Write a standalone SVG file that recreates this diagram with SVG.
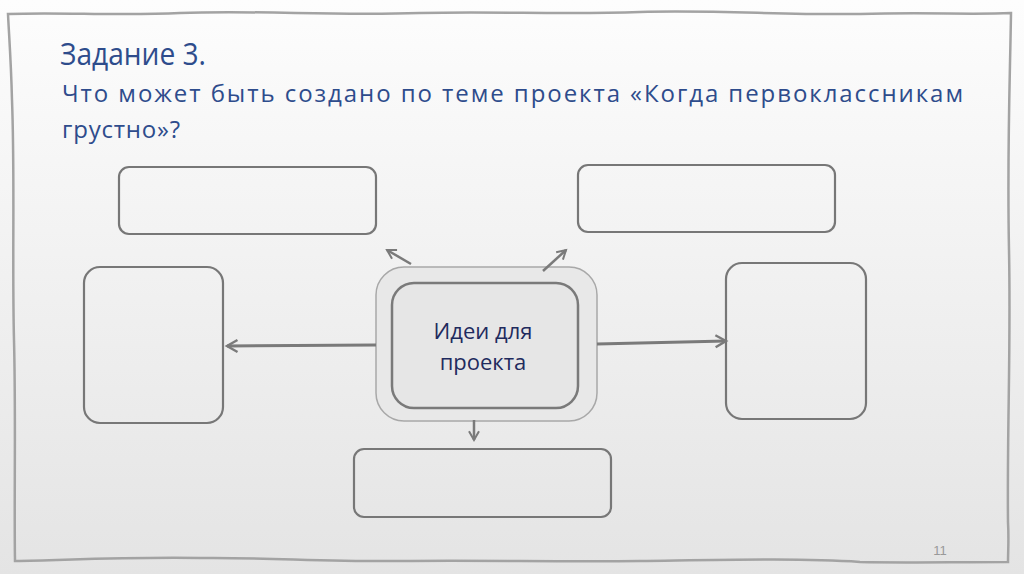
<svg xmlns="http://www.w3.org/2000/svg" width="1024" height="574" viewBox="0 0 1024 574">
<defs>
<linearGradient id="bg" x1="0" y1="0" x2="0" y2="1">
<stop offset="0" stop-color="#fdfdfd"/>
<stop offset="1" stop-color="#e4e4e4"/>
</linearGradient>
<marker id="ah" viewBox="0 0 10 10" refX="8" refY="5" markerWidth="5" markerHeight="5" markerUnits="strokeWidth" orient="auto">
<path d="M1,1 L8,5 L1,9" fill="none" stroke="#7a7a7a" stroke-width="1.6"/>
</marker>
</defs>
<style>
.box{fill:none;stroke:#777;stroke-width:2.2}
.con{stroke:#7a7a7a;fill:none}
.t{font-family:"Open Sans","Noto Sans",sans-serif;fill:#2e4c8c}
.c{font-family:"Open Sans","Noto Sans",sans-serif;font-size:22px;fill:#1f2b5e;text-anchor:middle}
</style>
<rect width="1024" height="574" fill="url(#bg)"/>
<path d="M8,14 C60,12 120,16 180,13 C260,10 330,16 420,13 C500,11 560,15 640,12 C720,10 780,15 860,14 C930,12 970,15 1011,13 C1010,80 1007,150 1009,250 C1011,350 1007,430 1008,522 C1009,540 1008,552 1008,562 C950,562 900,563 860,562 C800,558 720,560 640,561 C560,562 480,560 400,561 C330,562 260,557 200,558 C120,557 70,560 15,561 C14,500 16,420 14,340 C12,260 15,180 12,100 C11,60 9,35 8,14 Z" fill="none" stroke="#a3a3a3" stroke-width="2.5"/>
<text class="t" x="60" y="65" font-size="31" textLength="146" lengthAdjust="spacingAndGlyphs">Задание 3.</text>
<text class="t" x="62" y="102" font-size="24" textLength="901" lengthAdjust="spacing">Что может быть создано по теме проекта «Когда первоклассникам</text>
<text class="t" x="62" y="138" font-size="24" letter-spacing="0.8">грустно»?</text>
<g id="node-top-left"><rect class="box" x="119" y="167" width="257" height="67" rx="10" fill="#f6f6f6"/></g>
<g id="node-top-right"><rect class="box" x="578" y="165" width="257" height="67" rx="10"/></g>
<g id="node-left"><rect class="box" x="84" y="267" width="139" height="156" rx="16"/></g>
<g id="node-right"><rect class="box" x="726" y="263" width="140" height="156" rx="16"/></g>
<g id="node-bottom"><rect class="box" x="354" y="449" width="257" height="68" rx="10"/></g>
<g id="node-center">
<rect x="376" y="267" width="221" height="154" rx="28" fill="#e8e8e8" stroke="#a8a8a8" stroke-width="1.5"/>
<rect x="392" y="283" width="186" height="125" rx="22" fill="#e6e6e6" stroke="#7a7a7a" stroke-width="2.5"/>
<text class="c" x="483" y="339">Идеи для</text>
<text class="c" x="483" y="370">проекта</text>
</g>
<g id="connectors">
<line class="con" x1="376" y1="345" x2="227" y2="346" stroke-width="3" marker-end="url(#ah)"/>
<line class="con" x1="597" y1="344" x2="726" y2="341" stroke-width="3" marker-end="url(#ah)"/>
<line class="con" x1="411" y1="264" x2="387" y2="250" stroke-width="2.5" marker-end="url(#ah)"/>
<line class="con" x1="543" y1="271" x2="566" y2="250" stroke-width="2.5" marker-end="url(#ah)"/>
<line class="con" x1="474" y1="420" x2="474" y2="440" stroke-width="2.5" marker-end="url(#ah)"/>
</g>
<text x="940" y="555" font-family="'Liberation Sans',sans-serif" font-size="13" fill="#999" text-anchor="middle">11</text>
</svg>
